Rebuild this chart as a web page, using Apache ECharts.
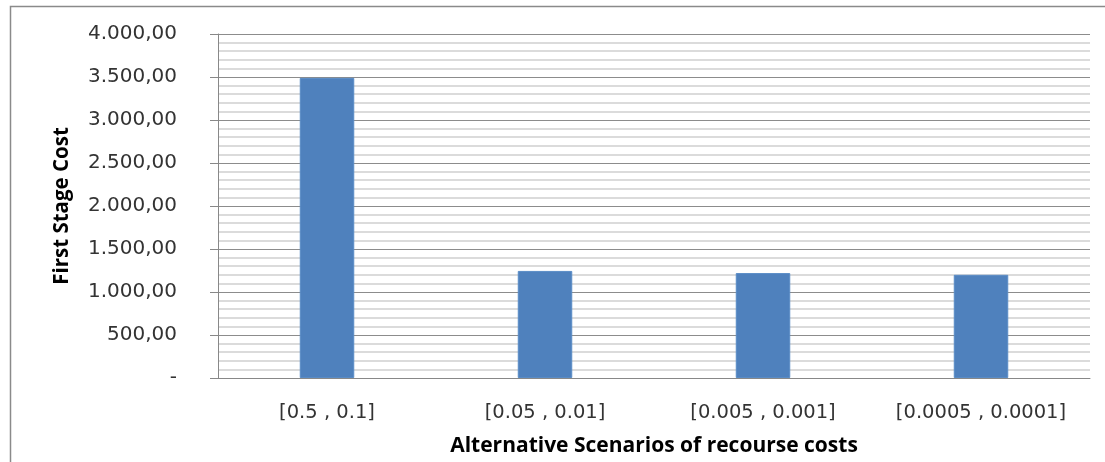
<!DOCTYPE html>
<html>
<head>
<meta charset="utf-8">
<script src="https://cdn.jsdelivr.net/npm/echarts@6/dist/echarts.min.js"></script>
<style>
  html, body { margin: 0; padding: 0; background: #ffffff; }
  #chart { width: 1105px; height: 462px; }
</style>
</head>
<body>
<div id="chart"></div>
<script>
// Scenario categories (recourse cost pairs) and first stage cost per scenario
const scenarios = ['[0.5 , 0.1]', '[0.05 , 0.01]', '[0.005 , 0.001]', '[0.0005 , 0.0001]'];
const firstStageCost = [3490, 1245, 1220, 1200];
const yMin = 0;
const yMax = 4000;
const yStep = 500;

// European number style: 3.500,00 ; zero shown as a dash
function fmt(v) {
  if (v === 0) return '-';
  const parts = v.toFixed(2).split('.');
  const intPart = parts[0].replace(/\B(?=(\d{3})+(?!\d))/g, '.');
  return intPart + ',' + parts[1];
}

const chart = echarts.init(document.getElementById('chart'), null, { renderer: 'canvas' });

chart.setOption({
  animation: false,
  backgroundColor: '#ffffff',
  graphic: [{
    type: 'rect',
    shape: { x: 10.5, y: 6.5, width: 1110, height: 470 },
    style: { fill: 'none', stroke: '#8a8a8a', lineWidth: 1.5 },
    silent: true,
    z: -1
  }],
  grid: { left: 218, right: 15, top: 34, bottom: 84, containLabel: false, outerBoundsMode: 'none' },
  xAxis: {
    type: 'category',
    data: scenarios,
    name: 'Alternative Scenarios of recourse costs',
    nameLocation: 'middle',
    nameGap: 58,
    nameTextStyle: { fontFamily: 'Open Sans', fontWeight: 'bold', fontSize: 21, color: '#000000' },
    axisLine: { show: true, lineStyle: { color: '#888888', width: 1 } },
    axisTick: { show: false },
    axisLabel: {
      interval: 0,
      margin: 25,
      fontFamily: 'DejaVu Sans',
      fontSize: 19.5,
      color: '#333333'
    },
    splitLine: { show: false }
  },
  yAxis: {
    type: 'value',
    min: yMin,
    max: yMax,
    interval: yStep,
    name: 'First Stage Cost',
    nameLocation: 'middle',
    nameGap: 145,
    nameRotate: 90,
    nameTextStyle: { fontFamily: 'Open Sans', fontWeight: 'bold', fontSize: 20.5, color: '#000000' },
    axisLine: { show: true, lineStyle: { color: '#888888', width: 1 } },
    axisTick: { show: true, inside: false, length: 8, lineStyle: { color: '#888888' } },
    axisLabel: {
      margin: 41,
      fontFamily: 'DejaVu Sans',
      fontSize: 20,
      color: '#333333',
      formatter: fmt
    },
    splitLine: { show: true, lineStyle: { color: '#8c8c8c', width: 1 } },
    minorTick: { show: false, splitNumber: 5 },
    minorSplitLine: { show: true, lineStyle: { color: '#cfcfcf', width: 1.5 } }
  },
  series: [{
    type: 'bar',
    data: firstStageCost,
    barWidth: '25%',
    itemStyle: { color: '#4f81bd', borderColor: '#5a8cc6', borderWidth: 1 }
  }]
});
</script>
</body>
</html>
